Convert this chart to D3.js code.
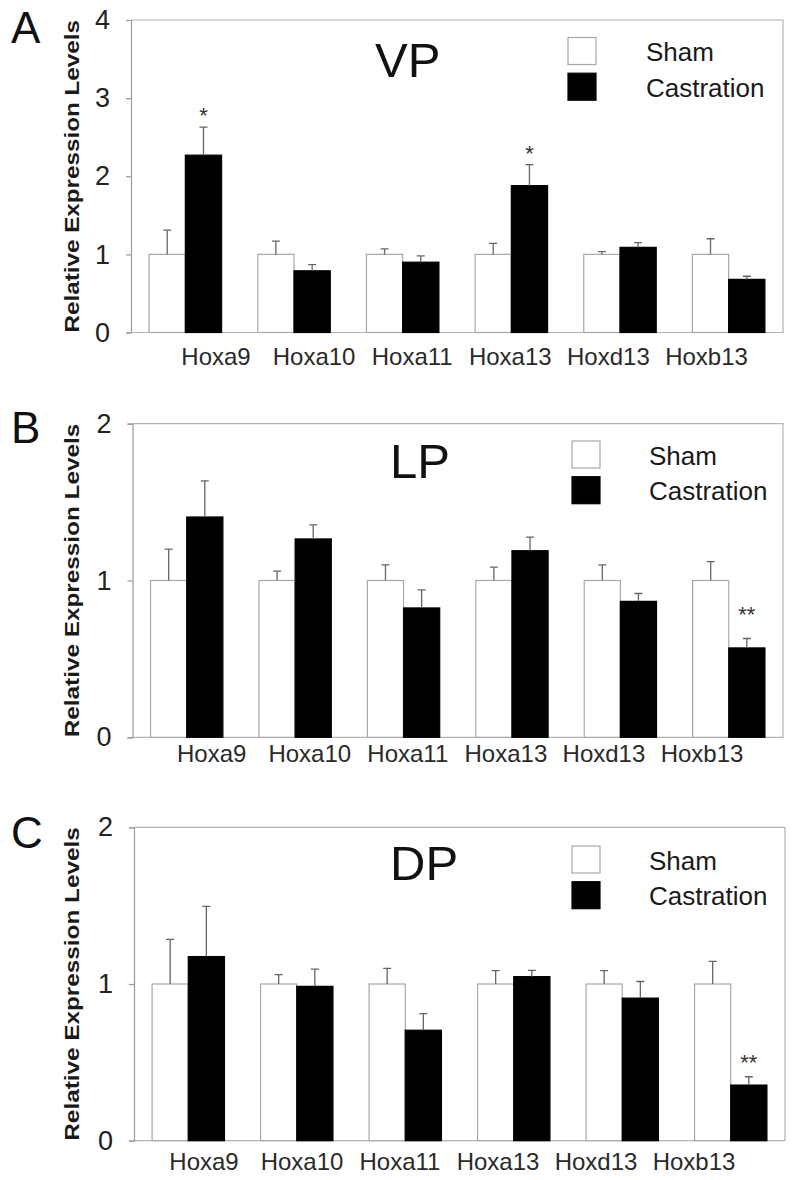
<!DOCTYPE html>
<meta charset="utf-8">
<style type="text/css">
  body { margin: 0; background: #ffffff; }
  text { font-family: 'Liberation Sans', Arial, sans-serif; }
</style>
<script src="https://d3js.org/d3.v7.min.js"></script>
<body>
<div id="chart"></div>
</body>
<script>

// categories
var genes = ["Hoxa9", "Hoxa10", "Hoxa11", "Hoxa13", "Hoxd13", "Hoxb13"]
var groups = ["Sham", "Castration"]

// VP
var shamVP = [1, 1, 1, 1, 1, 1]
var shamErrVP = [0.31, 0.17, 0.07, 0.14, 0.035, 0.2]
var castVP = [2.27, 0.79, 0.90, 1.88, 1.09, 0.68]
var castErrVP = [0.36, 0.08, 0.08, 0.27, 0.06, 0.04]
var sigVP = ["*", "", "", "*", "", ""]

// LP
var shamLP = [1, 1, 1, 1, 1, 1]
var shamErrLP = [0.2, 0.06, 0.1, 0.085, 0.1, 0.12]
var castLP = [1.405, 1.265, 0.825, 1.19, 0.867, 0.57]
var castErrLP = [0.23, 0.09, 0.115, 0.087, 0.05, 0.06]
var sigLP = ["", "", "", "", "", "**"]

// DP
var shamDP = [1, 1, 1, 1, 1, 1]
var shamErrDP = [0.285, 0.06, 0.1, 0.085, 0.085, 0.145]
var castDP = [1.175, 0.985, 0.705, 1.047, 0.91, 0.355]
var castErrDP = [0.32, 0.11, 0.106, 0.04, 0.106, 0.053]
var sigDP = ["", "", "", "", "", "**"]

var yTicksVP = [0, 1, 2, 3, 4]
var yTicksLP = [0, 1, 2]
var yTicksDP = [0, 1, 2]

// layout of the three panels (pixels)
var panels = [
  {letter: "A", title: "VP", sham: shamVP, shamErr: shamErrVP, cast: castVP, castErr: castErrVP, sig: sigVP, ticks: yTicksVP,
   left: 131, right: 783, top: 20, bottom: 332.5, letterY: 43, titleX: 375, titleY: 77,
   legX: 568, legY: 37.5, legTextX: 646, labelY: 365, labelFrom: 216, labelTo: 706.5, starGap: 16},
  {letter: "B", title: "LP", sham: shamLP, shamErr: shamErrLP, cast: castLP, castErr: castErrLP, sig: sigLP, ticks: yTicksLP,
   left: 132.5, right: 783, top: 423.7, bottom: 737.3, letterY: 443, titleX: 390, titleY: 478,
   legX: 572, legY: 441, legTextX: 649, labelY: 762, labelFrom: 211.7, labelTo: 702, starGap: 29},
  {letter: "C", title: "DP", sham: shamDP, shamErr: shamErrDP, cast: castDP, castErr: castErrDP, sig: sigDP, ticks: yTicksDP,
   left: 134, right: 785, top: 827.3, bottom: 1140.7, letterY: 848, titleX: 390, titleY: 880,
   legX: 572, legY: 846, legTextX: 649, labelY: 1170, labelFrom: 204, labelTo: 694, starGap: 19}
]

var fills = {Sham: "#ffffff", Castration: "#000000"}
var strokes = {Sham: "#a8a8a8", Castration: "#000000"}

var svg = d3.select("#chart")
  .append("svg")
    .attr("width", 796)
    .attr("height", 1180)
    .style("background", "#ffffff")

panels.forEach(function(p) {

  var g = svg.append("g")

  var x = d3.scaleBand()
    .domain(genes)
    .range([p.left, p.right])
    .paddingInner(0.333)
    .paddingOuter(0.1667)

  var xSub = d3.scaleBand()
    .domain(groups)
    .range([0, x.bandwidth()])

  var y = d3.scaleLinear()
    .domain([0, d3.max(p.ticks)])
    .range([p.bottom, p.top])

  var xLab = d3.scalePoint()
    .domain(genes)
    .range([p.labelFrom, p.labelTo])

  // frame
  g.append("path")
    .attr("d", "M" + p.left + "," + p.top + "H" + p.right + "V" + p.bottom + "H" + p.left)
    .attr("fill", "none")
    .attr("stroke", "#b4b4b4")
    .attr("stroke-width", 1.2)

  // y axis
  var yAxis = g.append("g")
    .attr("transform", "translate(" + p.left + ",0)")
    .call(d3.axisLeft(y).tickValues(p.ticks).tickFormat(d3.format("d")).tickSize(5).tickPadding(16))
  yAxis.select(".domain").attr("stroke", "#9a9a9a").attr("stroke-width", 1.2)
  yAxis.selectAll(".tick line").attr("stroke", "#9a9a9a").attr("stroke-width", 1.2)
  yAxis.selectAll(".tick text")
    .attr("font-size", "27px")
    .attr("font-family", "'Liberation Sans', Arial, sans-serif")
    .attr("fill", "#222")

  // y label
  g.append("text")
    .attr("transform", "rotate(-90)")
    .attr("x", -(p.top + p.bottom) / 2)
    .attr("y", 79)
    .attr("text-anchor", "middle")
    .attr("font-size", "21px")
    .attr("font-weight", "bold")
    .attr("fill", "#1a1a1a")
    .attr("textLength", p.bottom - p.top)
    .attr("lengthAdjust", "spacingAndGlyphs")
    .text("Relative Expression Levels")

  // bars
  var rows = genes.map(function(d, i) {
    return {gene: d, i: i, vals: [
      {group: "Sham", v: p.sham[i], e: p.shamErr[i]},
      {group: "Castration", v: p.cast[i], e: p.castErr[i], sig: p.sig[i]}
    ]}
  })

  var grp = g.selectAll(".gene")
    .data(rows)
    .enter()
    .append("g")
    .attr("transform", function(d) { return "translate(" + x(d.gene) + ",0)" })

  grp.selectAll("rect")
    .data(function(d) { return d.vals })
    .enter()
    .append("rect")
    .attr("x", function(d) { return xSub(d.group) })
    .attr("y", function(d) { return y(d.v) })
    .attr("width", xSub.bandwidth())
    .attr("height", function(d) { return y(0) - y(d.v) })
    .attr("fill", function(d) { return fills[d.group] })
    .attr("stroke", function(d) { return strokes[d.group] })
    .attr("stroke-width", 1.2)

  // error bars (upper only)
  grp.selectAll(".err")
    .data(function(d) { return d.vals })
    .enter()
    .append("path")
    .attr("d", function(d) {
      var cx = xSub(d.group) + xSub.bandwidth() / 2
      return "M" + cx + "," + y(d.v) + "V" + y(d.v + d.e) + "M" + (cx - 4) + "," + y(d.v + d.e) + "H" + (cx + 4)
    })
    .attr("fill", "none")
    .attr("stroke", "#666")
    .attr("stroke-width", 1.3)

  // significance stars
  grp.selectAll(".sig")
    .data(function(d) { return d.vals.filter(function(v) { return v.sig }) })
    .enter()
    .append("text")
    .attr("x", function(d) { return xSub(d.group) + xSub.bandwidth() / 2 })
    .attr("y", function(d) { return y(d.v + d.e) - p.starGap + 12 })
    .attr("text-anchor", "middle")
    .attr("font-size", "22px")
    .attr("fill", "#333")
    .text(function(d) { return d.sig })

  // category labels
  g.selectAll(".lab")
    .data(genes)
    .enter()
    .append("text")
    .attr("x", function(d) { return xLab(d) })
    .attr("y", p.labelY)
    .attr("text-anchor", "middle")
    .attr("font-size", "24px")
    .attr("fill", "#2a2a2a")
    .text(function(d) { return d })

  // panel letter and title
  g.append("text")
    .attr("x", 11)
    .attr("y", p.letterY)
    .attr("font-size", "44px")
    .attr("fill", "#111")
    .text(p.letter)

  g.append("text")
    .attr("x", p.titleX)
    .attr("y", p.titleY)
    .attr("font-size", "49px")
    .attr("fill", "#111")
    .text(p.title)

  // legend
  var leg = g.selectAll(".leg")
    .data(groups)
    .enter()
    .append("g")

  leg.append("rect")
    .attr("x", p.legX)
    .attr("y", function(d, i) { return p.legY + i * 35.7 })
    .attr("width", 28)
    .attr("height", 27)
    .attr("fill", function(d) { return fills[d] })
    .attr("stroke", function(d) { return strokes[d] })
    .attr("stroke-width", 1.2)

  leg.append("text")
    .attr("x", p.legTextX)
    .attr("y", function(d, i) { return p.legY + 23.5 + i * 35.7 })
    .attr("font-size", "26px")
    .attr("fill", "#1a1a1a")
    .text(function(d) { return d })
})

</script>
